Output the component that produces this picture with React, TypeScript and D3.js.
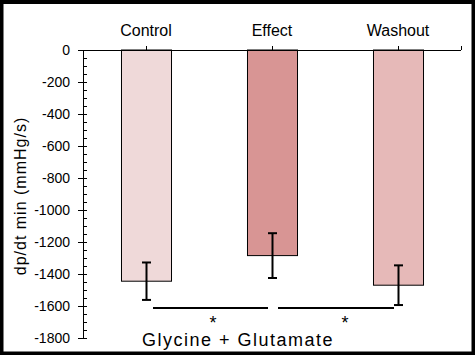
import React from "react";
import * as d3 from "d3";

const categories = ["Control", "Effect", "Washout"];
const means = [-1445, -1285, -1470];
const errors = [117, 140, 124];
const barColors = ["#efd9d9", "#d89594", "#e6b9b8"];
const yTicks = [0, -200, -400, -600, -800, -1000, -1200, -1400, -1600, -1800];
const minorStep = 50;
const sigPairs: [number, number][] = [[0, 1], [1, 2]];
const sigLevel = -1612;
const sigLabel = "*";
const groupLabel = "Glycine + Glutamate";
const yLabel = "dp/dt min (mmHg/s)";

const W = 475, H = 355;

export default function App() {
  const y = d3.scaleLinear().domain([0, -1800]).range([50, 338]);
  const x = d3.scaleBand<string>().domain(categories).range([83, 461]).paddingInner(0.603).paddingOuter(0.3015);
  const center = (i: number) => (x(categories[i]) as number) + x.bandwidth() / 2;
  const minor = d3.range(0, -1800 - 1, -minorStep).filter(v => v % 200 !== 0);
  const font = "'Liberation Sans', Arial, sans-serif";
  const capW = 4.5;
  return (
    <svg width={W} height={H} style={{ position: "fixed", left: 0, top: 0, background: "#fff" }} fontFamily={font}>
      <rect x={1.5} y={2} width={W - 3} height={H - 3.5} fill="#fff" stroke="#000" strokeWidth={4} />
      {categories.map((c, i) => (
        <rect key={c} x={(x(c) as number) + 0.5} y={y(0)} width={x.bandwidth()} height={y(means[i]) - y(0)}
          fill={barColors[i]} stroke="#000" strokeWidth={1} />
      ))}
      {categories.map((c, i) => {
        const cx = Math.round(center(i)) + 0.5;
        const t = y(means[i] + errors[i]);
        const b = y(means[i] - errors[i]);
        return (
          <g key={"e" + c} stroke="#000" strokeWidth={2}>
            <line x1={cx} x2={cx} y1={t} y2={b} />
            <line x1={cx - capW} x2={cx + capW} y1={t} y2={t} />
            <line x1={cx - capW} x2={cx + capW} y1={b} y2={b} />
          </g>
        );
      })}
      <line x1={83} x2={461} y1={y(0) + 0.5} y2={y(0) + 0.5} stroke="#000" strokeWidth={1.2} />
      {categories.map((c, i) => (
        <g key={"t" + c}>
          <line x1={Math.round(center(i)) + 0.5} x2={Math.round(center(i)) + 0.5} y1={y(0) - 4} y2={y(0)} stroke="#000" />
          <text x={center(i)} y={y(0) - 14} fontSize={16} textAnchor="middle" fill="#000">{c}</text>
        </g>
      ))}
      <line x1={461.5} x2={461.5} y1={y(0) - 4} y2={y(0)} stroke="#000" />
      <line x1={83.5} x2={83.5} y1={y(0)} y2={y(-1800)} stroke="#000" />
      {minor.map(v => (
        <line key={"m" + v} x1={83} x2={87} y1={Math.round(y(v)) + 0.5} y2={Math.round(y(v)) + 0.5} stroke="#000" />
      ))}
      {yTicks.map(v => (
        <g key={"y" + v}>
          <line x1={78} x2={87} y1={Math.round(y(v)) + 0.5} y2={Math.round(y(v)) + 0.5} stroke="#000" />
          <text x={70} y={y(v) + 5} fontSize={14} textAnchor="end" fill="#000">{v}</text>
        </g>
      ))}
      <text transform={`translate(26,196) rotate(-90)`} fontSize={16} textAnchor="middle" letterSpacing={1} fill="#000">{yLabel}</text>
      {sigPairs.map(([a, b], k) => {
        const x1 = center(a) + (k === 0 ? 7 : 6);
        const x2 = center(b) - 4;
        const mid = (center(a) + center(b)) / 2 + (k === 0 ? 4 : 10);
        return (
          <g key={"s" + k}>
            <line x1={x1} x2={x2} y1={y(sigLevel)} y2={y(sigLevel)} stroke="#000" strokeWidth={2} />
            <text x={mid} y={y(sigLevel) + 21} fontSize={18} textAnchor="middle" fill="#000">{sigLabel}</text>
          </g>
        );
      })}
      <text x={(center(0) + center(2)) / 2 - 34} y={346} fontSize={18} letterSpacing={1.5} textAnchor="middle" fill="#000">{groupLabel}</text>
    </svg>
  );
}
